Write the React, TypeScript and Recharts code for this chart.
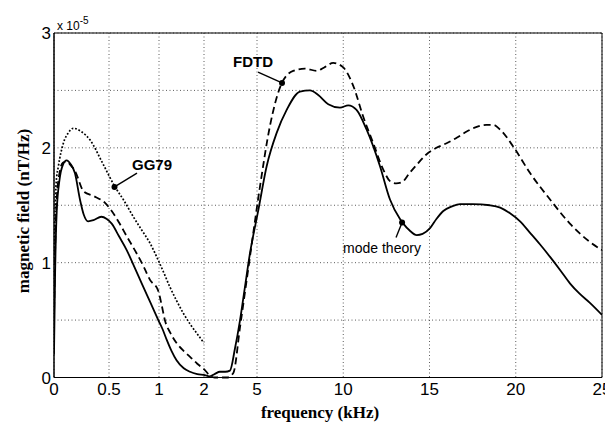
import {
  LineChart, Line, XAxis, YAxis, CartesianGrid,
  ReferenceArea, ReferenceDot, ReferenceLine, Customized
} from 'recharts';

// frequency axis is warped: 0-2 kHz stretched, 5-25 kHz linear
const tickFreq = [0, 0.5, 1, 2, 5, 10, 15, 20, 25];
const tickLabels = ['0', '0.5', '1', '2', '5', '10', '15', '20', '25'];
const tickPos = [0, 55, 105, 150, 203, 289.25, 375.5, 461.75, 548];

const fieldTicks = [0, 0.5, 1, 1.5, 2, 2.5, 3];

// mode theory (solid), values in 1e-5 nT/Hz
const modeFreq = [
  0, 0.01, 0.025, 0.05, 0.08, 0.115, 0.15, 0.19, 0.236, 0.27, 0.31, 0.36, 0.43, 0.48, 0.527,
  0.6, 0.677, 0.75, 0.827, 0.91, 0.993, 1.08, 1.17, 1.28, 1.39, 1.55, 1.69, 1.85, 2.05, 2.3,
  2.6, 2.9, 3.2, 3.47, 3.75, 4.04, 4.3, 4.6, 5.08, 5.56, 6.14, 6.72, 7.49, 8.07, 8.55, 9.13,
  9.81, 10.29, 10.77, 11.35, 12.13, 12.71, 13.29, 13.48, 13.85, 14.26, 14.6, 15.03, 15.4, 15.8,
  16.3, 16.77, 17.5, 18.5, 19.1, 19.67, 20.25, 20.83, 21.4, 21.99, 22.6, 23.14, 23.7, 24.3, 25,
];
const modeField = [
  0.2, 0.9, 1.45, 1.72, 1.85, 1.89, 1.86, 1.78, 1.55, 1.42, 1.36, 1.37, 1.4, 1.38, 1.34,
  1.23, 1.11, 0.97, 0.82, 0.66, 0.5, 0.42, 0.33, 0.23, 0.15, 0.08, 0.05, 0.03, 0.02, 0.01,
  0.03, 0.05, 0.05, 0.06, 0.25, 0.5, 0.77, 1.08, 1.46, 1.84, 2.13, 2.33, 2.49, 2.5, 2.46, 2.38,
  2.35, 2.37, 2.33, 2.16, 1.84, 1.55, 1.38, 1.34, 1.28, 1.24, 1.25, 1.3, 1.38, 1.45,
  1.49, 1.51, 1.51, 1.5, 1.48, 1.43, 1.36, 1.26, 1.16, 1.05, 0.93, 0.82, 0.73, 0.65, 0.545,
];

// FDTD (dashed)
const fdtdFreq = [
  0, 0.01, 0.025, 0.05, 0.08, 0.115, 0.15, 0.19, 0.27, 0.36, 0.464, 0.527, 0.6, 0.677, 0.777,
  0.85, 0.91, 0.99, 1.06, 1.13, 1.25, 1.39, 1.55, 1.69, 1.85, 2.05, 2.3, 2.6, 3.0, 3.3, 3.66,
  4.04, 4.6, 5.17, 5.75, 6.43, 7.1, 7.78, 8.46, 8.9, 9.42, 10.0, 10.58, 11.16, 11.74, 12.32,
  12.71, 13.07, 13.4, 13.84, 14.3, 14.8, 15.4, 15.99, 16.6, 17.13, 17.7, 18.29, 18.7, 19.09,
  19.86, 20.83, 21.99, 23.14, 24.3, 25,
];
const fdtdField = [
  0.5, 1.1, 1.55, 1.78, 1.87, 1.88, 1.85, 1.8, 1.62, 1.58, 1.52, 1.45, 1.35, 1.23, 1.08,
  0.96, 0.85, 0.76, 0.63, 0.5, 0.39, 0.3, 0.23, 0.18, 0.12, 0.065, 0.02, 0.0, 0.0, 0.0, 0.04,
  0.44, 1.05, 1.66, 2.19, 2.56, 2.67, 2.69, 2.67, 2.7, 2.74, 2.7, 2.54, 2.27, 2.04, 1.81,
  1.71, 1.69, 1.7, 1.78, 1.86, 1.94, 2.0, 2.04, 2.09, 2.14, 2.18, 2.2, 2.2, 2.16,
  2.01, 1.78, 1.55, 1.34, 1.18, 1.11,
];

// GG79 (dotted), only up to 2 kHz
const gg79Freq = [
  0, 0.01, 0.02, 0.04, 0.085, 0.13, 0.176, 0.25, 0.327, 0.44, 0.56, 0.65, 0.743, 0.83, 0.91,
  0.993, 1.12, 1.24, 1.39, 1.54, 1.7, 1.84, 2.0,
];
const gg79Field = [
  1.0, 1.45, 1.7, 1.84, 2.04, 2.13, 2.17, 2.14, 2.07, 1.87, 1.66, 1.54, 1.4, 1.28, 1.17,
  1.02, 0.9, 0.79, 0.67, 0.56, 0.46, 0.385, 0.3,
];

function warp(f: number) {
  for (let i = 0; i < tickFreq.length - 1; i++) {
    const a = tickFreq[i], b = tickFreq[i + 1];
    if (f <= b) return tickPos[i] + ((f - a) / (b - a)) * (tickPos[i + 1] - tickPos[i]);
  }
  return tickPos[tickPos.length - 1];
}

const toSeries = (fs: number[], vs: number[]) => fs.map((f, i) => ({ u: warp(f), v: vs[i] }));

const modeData = toSeries(modeFreq, modeField);
const fdtdData = toSeries(fdtdFreq, fdtdField);
const gg79Data = toSeries(gg79Freq, gg79Field);

const sans = '"Liberation Sans", Arial, sans-serif';
const serif = '"Liberation Serif", "Times New Roman", serif';

// callouts: text anchor, line start, marker on the curve (kHz, field)
const notes = [
  { text: 'GG79', tf: 0.73, tv: 1.81, lf: 0.78, lv: 1.78, mf: 0.555, mv: 1.66, bold: true, size: 15 },
  { text: 'FDTD', tf: 3.64, tv: 2.7, lf: 5.06, lv: 2.66, mf: 6.45, mv: 2.565, bold: true, size: 15 },
  { text: 'mode theory', tf: 9.99, tv: 1.085, lf: 13.06, lv: 1.22, mf: 13.41, mv: 1.35, bold: false, size: 14 },
];

const blank = () => '';

export default function App() {
  return (
    <LineChart
      width={605}
      height={416}
      margin={{ top: 25, right: 11, bottom: 16.5, left: 6 }}
      style={{ background: '#fff' }}
    >
      <CartesianGrid stroke="#333" strokeDasharray="1 2.5" strokeWidth={0.8} />
      <XAxis
        type="number"
        dataKey="u"
        domain={[0, 548]}
        ticks={tickPos}
        tickFormatter={(u: number) => tickLabels[tickPos.indexOf(u)] ?? ''}
        height={30}
        tickLine={false}
        tickSize={0}
        tickMargin={5}
        axisLine={{ stroke: '#000' }}
        tick={{ fill: '#000', fontSize: 17, fontFamily: sans }}
        allowDataOverflow
      />
      <YAxis
        type="number"
        domain={[0, 3]}
        ticks={fieldTicks}
        tickFormatter={(v: number) => (Number.isInteger(v) ? String(v) : '')}
        width={40}
        tickLine={false}
        tickSize={0}
        tickMargin={3}
        axisLine={{ stroke: '#000' }}
        tick={{ fill: '#000', fontSize: 17, fontFamily: sans }}
      />
      {/* inward tick marks on all four sides, MATLAB style */}
      <XAxis xAxisId="top" orientation="top" type="number" domain={[0, 548]} ticks={tickPos}
        mirror height={0} tickSize={4} tickFormatter={blank} axisLine={false} tickLine={{ stroke: '#000' }} />
      <XAxis xAxisId="bottomIn" orientation="bottom" type="number" domain={[0, 548]} ticks={tickPos}
        mirror height={0} tickSize={4} tickFormatter={blank} axisLine={false} tickLine={{ stroke: '#000' }} />
      <YAxis yAxisId="right" orientation="right" type="number" domain={[0, 3]} ticks={fieldTicks}
        mirror width={0} tickSize={4} tickFormatter={blank} axisLine={false} tickLine={{ stroke: '#000' }} />
      <YAxis yAxisId="leftIn" orientation="left" type="number" domain={[0, 3]} ticks={fieldTicks}
        mirror width={0} tickSize={4} tickFormatter={blank} axisLine={false} tickLine={{ stroke: '#000' }} />

      <ReferenceArea x1={0} x2={548} y1={0} y2={3} fill="none" stroke="#000" strokeWidth={1} />

      <Line data={gg79Data} dataKey="v" type="monotone" stroke="#000" strokeWidth={1.7}
        strokeDasharray="1.8 1.8" dot={false} isAnimationActive={false} />
      <Line data={fdtdData} dataKey="v" type="monotone" stroke="#000" strokeWidth={1.8}
        strokeDasharray="7 4" dot={false} isAnimationActive={false} />
      <Line data={modeData} dataKey="v" type="monotone" stroke="#000" strokeWidth={1.8}
        dot={false} isAnimationActive={false} />

      {notes.map((n) => (
        <ReferenceLine
          key={n.text + '-line'}
          segment={[{ x: warp(n.lf), y: n.lv }, { x: warp(n.mf), y: n.mv }]}
          stroke="#000"
          strokeWidth={1.4}
        />
      ))}
      {notes.map((n) => (
        <ReferenceDot key={n.text + '-dot'} x={warp(n.mf)} y={n.mv} r={3} fill="#000" stroke="none" />
      ))}
      {notes.map((n) => (
        <ReferenceDot
          key={n.text + '-text'}
          x={warp(n.tf)}
          y={n.tv}
          shape={(p: any) => (
            <text x={p.cx} y={p.cy} fontFamily={sans} fontSize={n.size}
              fontWeight={n.bold ? 'bold' : 'normal'} fill="#000">
              {n.text}
            </text>
          )}
        />
      ))}

      <Customized
        component={() => (
          <g>
            <text x={49} y={22} fontFamily={sans} fontSize={12} fill="#000">
              x 10
              <tspan dy={-6} fontSize={10}>-5</tspan>
            </text>
            <text
              x={20.5}
              y={203}
              transform="rotate(-90 20.5 203)"
              textAnchor="middle"
              fontFamily={serif}
              fontWeight="bold"
              fontSize={17}
              fill="#000"
            >
              magnetic field (nT/Hz)
            </text>
            <text x={312} y={410} textAnchor="middle" fontFamily={serif} fontWeight="bold"
              fontSize={17} fill="#000">
              frequency (kHz)
            </text>
          </g>
        )}
      />
    </LineChart>
  );
}
